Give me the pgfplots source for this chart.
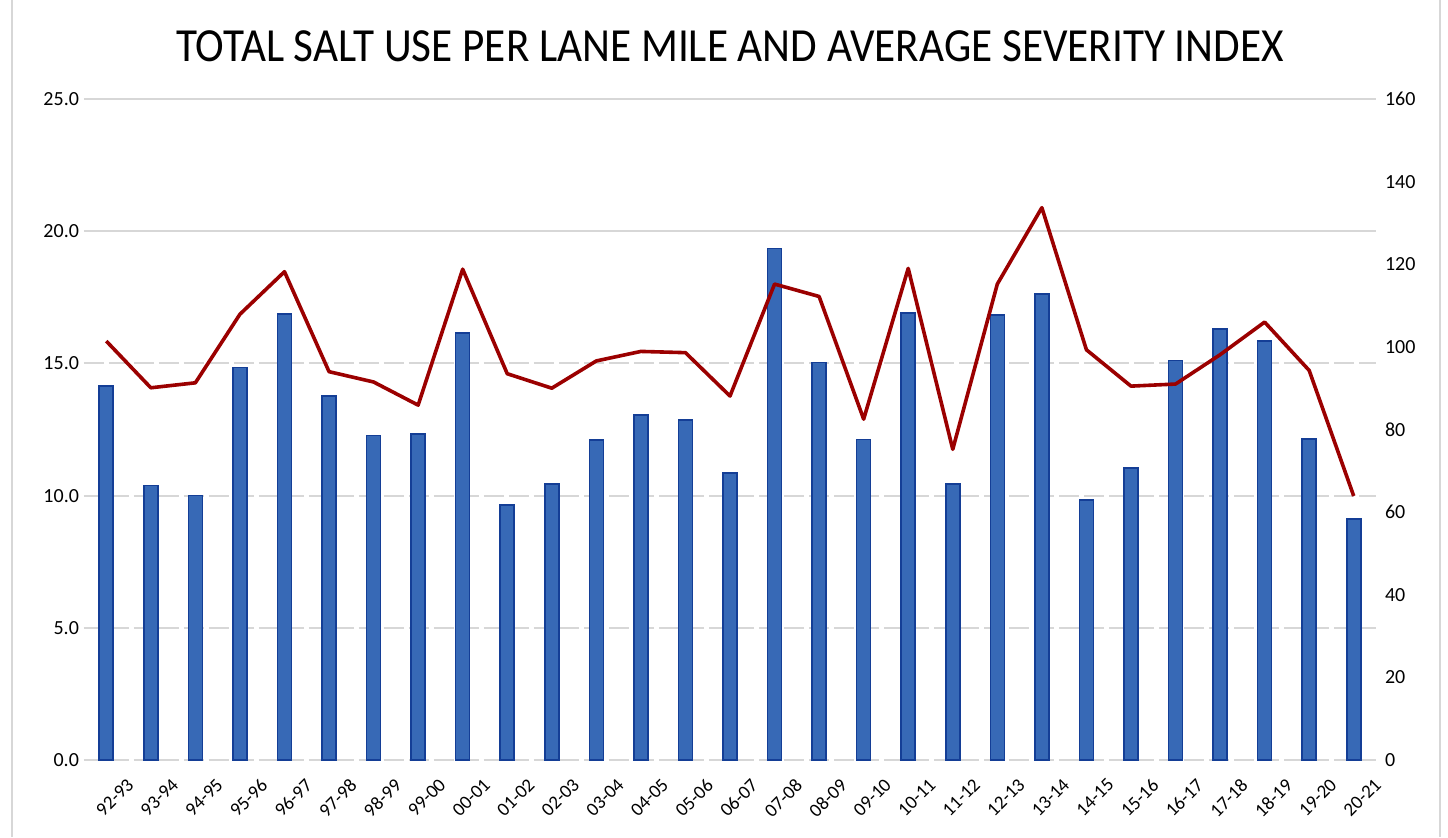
\documentclass[border=0pt]{standalone}
\usepackage{pgfplots}
\pgfplotsset{compat=1.18}
\usepackage{pgfplotstable}
\usepackage{fontspec}
\setmainfont{Carlito}
\definecolor{barfill}{RGB}{55,105,182}
\definecolor{baredge}{RGB}{20,62,150}
\definecolor{sevline}{RGB}{155,0,0}
\definecolor{gridgray}{RGB}{215,215,215}

\pgfplotstableread{
x salt sev
0 14.14 101.4
1 10.38 90.1
2 10.00 91.3
3 14.85 107.9
4 16.87 118.2
5 13.77 94.0
6 12.28 91.5
7 12.33 85.9
8 16.14 118.8
9 9.65 93.5
10 10.44 90.0
11 12.10 96.6
12 13.04 98.9
13 12.85 98.6
14 10.85 88.1
15 19.34 115.2
16 15.03 112.2
17 12.12 82.5
18 16.90 119.0
19 10.43 75.2
20 16.83 115.2
21 17.62 133.7
22 9.84 99.3
23 11.04 90.5
24 15.11 91.0
25 16.31 98.1
26 15.84 106.0
27 12.13 94.3
28 9.12 63.9
}\datatable

\begin{document}
\begin{tikzpicture}
\useasboundingbox (-42pt,-38.5pt) rectangle (682pt,380pt);
\draw[gridgray, line width=1pt] (-36pt,-38.5pt) -- (-36pt,380pt);
\draw[gridgray, line width=1pt] (678pt,-38.5pt) -- (678pt,380pt);
\begin{axis}[
  at={(0,0)}, anchor=south west,
  width=646pt, height=330.5pt, scale only axis,
  xmin=-0.5, xmax=28.5,
  ymin=0, ymax=25,
  ytick={0,5,10,15,20,25},
  xtick={0,...,28},
  xticklabels={92-93,93-94,94-95,95-96,96-97,97-98,98-99,99-00,00-01,01-02,02-03,03-04,04-05,05-06,06-07,07-08,08-09,09-10,10-11,11-12,12-13,13-14,14-15,15-16,16-17,17-18,18-19,19-20,20-21},
  xticklabel style={rotate=45, anchor=north east, font=\fontsize{9.5}{9.5}\selectfont, inner sep=1pt, xshift=2pt, yshift=-12pt},
  yticklabel style={font=\fontsize{10}{10}\selectfont, xshift=1pt},
  /pgf/number format/assume math mode=true,
  yticklabel={\pgfmathprintnumber[fixed,fixed zerofill,precision=1]{\tick}},
  axis line style={draw=none},
  major tick length=0pt,
  ymajorgrids,
  grid style={gridgray, line width=1pt, dash pattern=on 10pt off 2.5pt},
  extra y ticks={20,25},
  extra y tick labels={,},
  extra y tick style={grid style={gridgray, line width=1pt, solid}},
  title={\scalebox{1}[1.1]{TOTAL SALT USE PER LANE MILE AND AVERAGE SEVERITY INDEX}},
  title style={at={(0.5,1)}, anchor=center, yshift=20.5pt, font=\fontsize{21.6}{22}\selectfont},
  clip=false,
]
\addplot[ybar, bar width=7pt, fill=barfill, draw=baredge, line width=0.8pt] table[x=x, y=salt] {\datatable};
\end{axis}
\begin{axis}[
  at={(0,0)}, anchor=south west,
  width=646pt, height=330.5pt, scale only axis,
  xmin=-0.5, xmax=28.5,
  ymin=0, ymax=160,
  ytick={0,20,...,160},
  axis y line*=right,
  axis x line=none,
  axis line style={draw=none},
  major tick length=0pt,
  /pgf/number format/assume math mode=true,
  yticklabel style={font=\fontsize{10}{10}\selectfont, xshift=1pt},
]
\addplot[sevline, line width=1.8pt, no markers, line join=round] table[x=x, y=sev] {\datatable};
\end{axis}
\end{tikzpicture}
\end{document}
